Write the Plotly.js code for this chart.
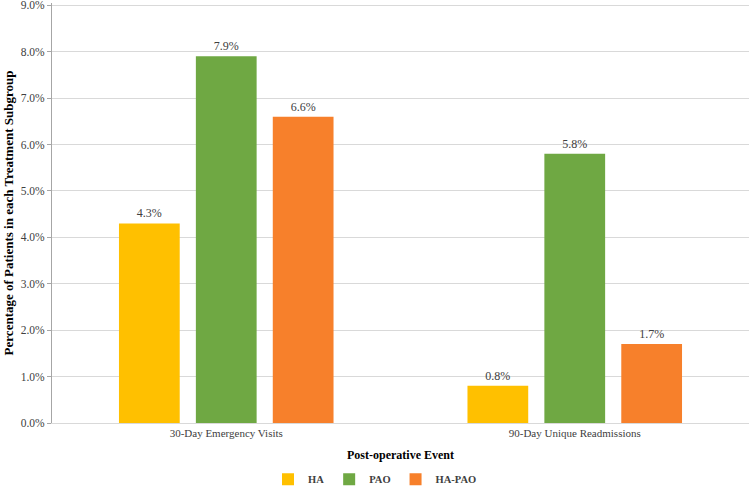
<!DOCTYPE html>
<html>
<head>
<meta charset="utf-8">
<script src="https://cdn.plot.ly/plotly-3.0.1.min.js"></script>
<style>
  html, body { margin: 0; padding: 0; background: #fff; }
  #chart { width: 750px; height: 488px; }
</style>
</head>
<body>
<div id="chart"></div>
<script>
const categories = ['30-Day Emergency Visits', '90-Day Unique Readmissions'];
const haValues = [4.3, 0.8];
const paoValues = [7.9, 5.8];
const haPaoValues = [6.6, 1.7];
const yTicks = [0, 1, 2, 3, 4, 5, 6, 7, 8, 9];

const serif = 'Liberation Serif, Times New Roman, serif';

function series(name, values, color) {
  return {
    type: 'bar',
    name: name,
    x: categories,
    y: values,
    marker: { color: color },
    text: values.map(v => v.toFixed(1) + '%'),
    textposition: 'outside',
    cliponaxis: false,
    textfont: { family: serif, size: 12, color: '#404040' },
    hoverinfo: 'skip'
  };
}

const data = [
  series('HA', haValues, '#FFC000'),
  series('PAO', paoValues, '#6FA843'),
  series('HA-PAO', haPaoValues, '#F7802B')
];

const layout = {
  width: 750,
  height: 488,
  margin: { l: 52, r: 1, t: 3, b: 65, autoexpand: false },
  paper_bgcolor: '#fff',
  plot_bgcolor: '#fff',
  font: { family: serif, size: 11, color: '#404040' },
  barmode: 'group',
  bargap: 0.338,
  bargroupgap: 0.21,
  showlegend: true,
  legend: {
    orientation: 'h',
    xref: 'container',
    yref: 'container',
    x: 0.5, xanchor: 'center',
    y: 0.018, yanchor: 'middle',
    font: { family: serif, size: 10.5, color: '#404040', weight: 'bold' },
    itemwidth: 30,
    traceorder: 'normal'
  },
  xaxis: {
    type: 'category',
    showline: true,
    linecolor: '#d9d9d9',
    linewidth: 1,
    ticks: '',
    tickfont: { family: serif, size: 11, color: '#404040' },
    title: {
      text: 'Post-operative Event',
      font: { family: serif, size: 12, color: '#000', weight: 'bold' },
      standoff: 12
    },
    automargin: true,
    fixedrange: true
  },
  yaxis: {
    range: [0, 9.05],
    tickvals: yTicks,
    ticktext: yTicks.map(v => v.toFixed(1) + '%'),
    ticklabeloverflow: 'allow',
    showgrid: true,
    gridcolor: '#d9d9d9',
    zeroline: false,
    showline: true,
    linecolor: '#a6a6a6',
    ticks: 'outside',
    ticklen: 4,
    tickcolor: '#a6a6a6',
    tickfont: { family: serif, size: 11.5, color: '#404040' },
    title: {
      text: 'Percentage of Patients in each Treatment Subgroup',
      font: { family: serif, size: 13, color: '#000', weight: 'bold' },
      standoff: 4
    },
    automargin: true,
    fixedrange: true
  }
};

Plotly.newPlot('chart', data, layout, { displayModeBar: false, staticPlot: true });
</script>
</body>
</html>
